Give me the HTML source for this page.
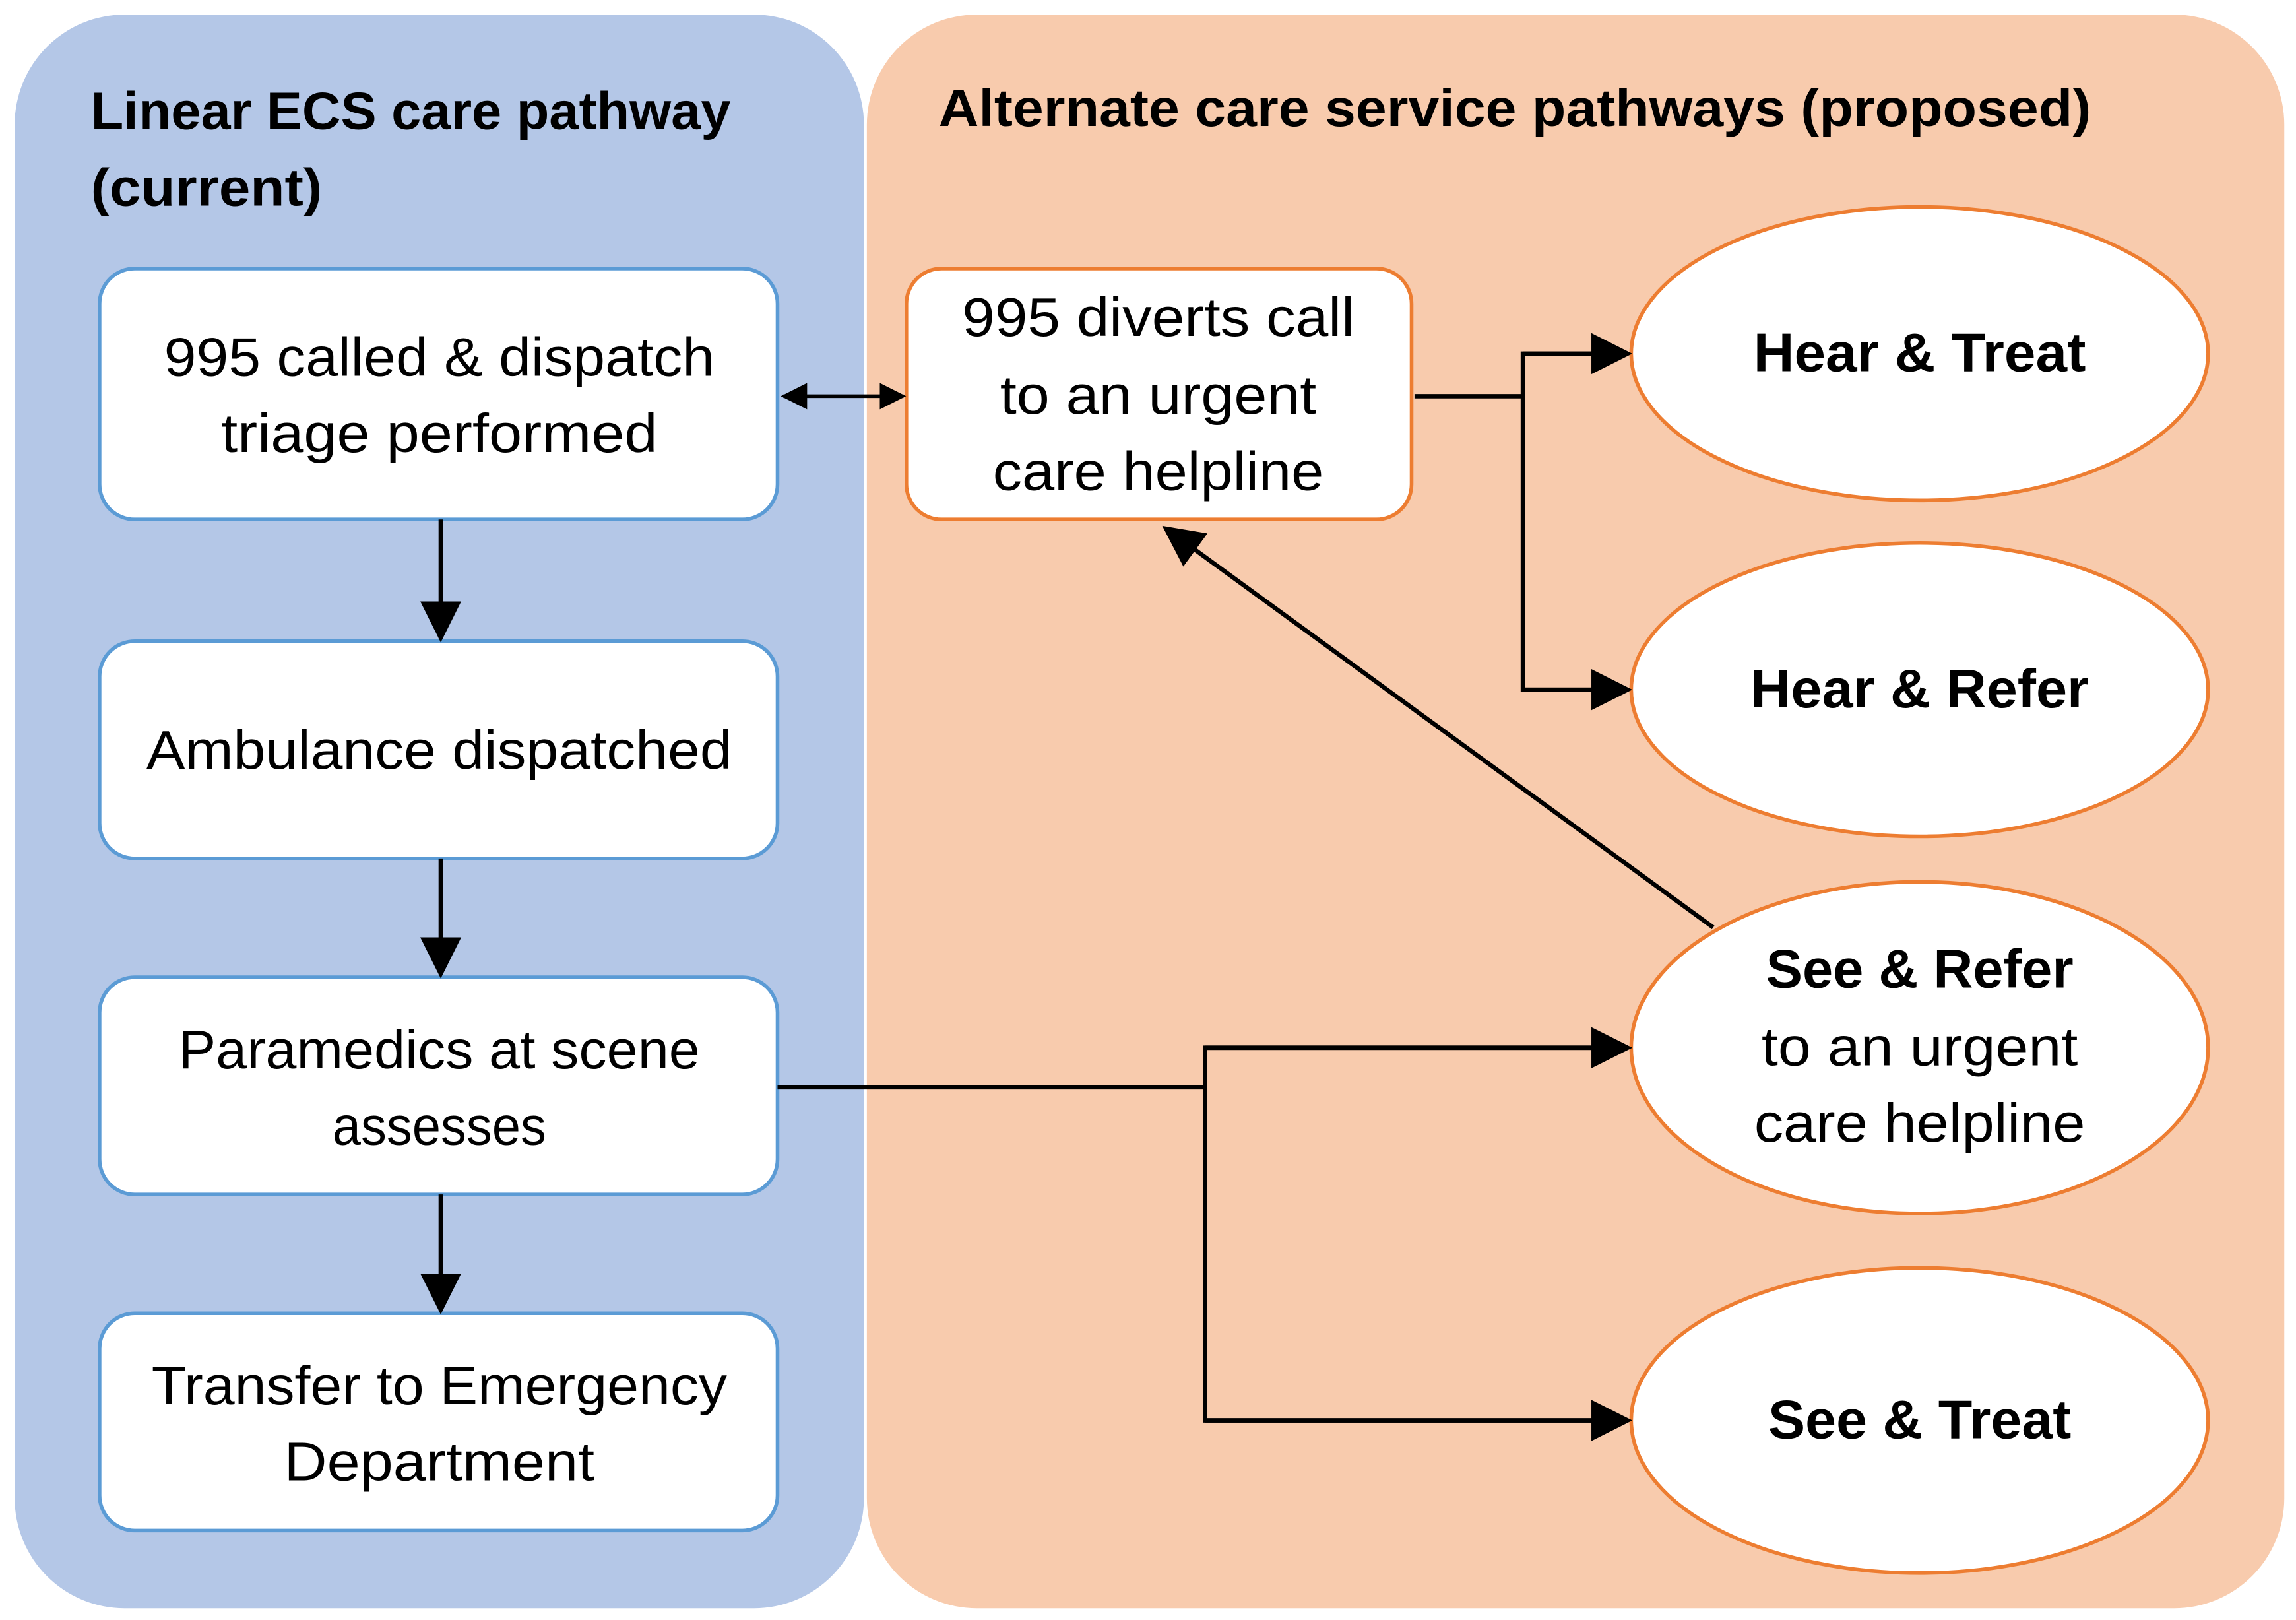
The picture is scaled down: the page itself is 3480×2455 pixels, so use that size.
<!DOCTYPE html>
<html><head><meta charset="utf-8"><style>html,body{margin:0;padding:0;background:#fff}svg{display:block}</style></head>
<body>
<svg width="3480" height="2455" viewBox="0 0 1568 1104" preserveAspectRatio="none" xmlns="http://www.w3.org/2000/svg" font-family="Liberation Sans, sans-serif">
<defs><marker id="a" viewBox="0 0 10 10" refX="9" refY="5" markerWidth="28" markerHeight="30" orient="auto-start-reverse" markerUnits="userSpaceOnUse"><path d="M0,0L10,5L0,10z" fill="#000"/></marker>
<marker id="s" viewBox="0 0 10 10" refX="9" refY="5" markerWidth="18" markerHeight="18" orient="auto-start-reverse" markerUnits="userSpaceOnUse"><path d="M0,0L10,5L0,10z" fill="#000"/></marker></defs>
<rect x="10" y="10" width="580" height="1086" rx="75" fill="#b4c7e7"/>
<rect x="592" y="10" width="968" height="1086" rx="75" fill="#f8cbad"/>
<g font-weight="bold" font-size="36" fill="#000">
<text x="62" y="88" textLength="437" lengthAdjust="spacingAndGlyphs">Linear ECS care pathway</text>
<text x="62" y="140" textLength="158" lengthAdjust="spacingAndGlyphs">(current)</text>
<text x="641" y="86" textLength="787" lengthAdjust="spacingAndGlyphs">Alternate care service pathways (proposed)</text>
</g>
<g fill="#fff" stroke="#5b9bd5" stroke-width="2.5">
<rect x="68" y="183" width="463" height="171" rx="24"/>
<rect x="68" y="437" width="463" height="148" rx="24"/>
<rect x="68" y="666" width="463" height="148" rx="24"/>
<rect x="68" y="895" width="463" height="148" rx="24"/>
</g>
<rect x="619" y="183" width="345" height="171" rx="24" fill="#fff" stroke="#ed7d31" stroke-width="2.5"/>
<g fill="#fff" stroke="#ed7d31" stroke-width="2.5">
<ellipse cx="1311" cy="241" rx="197" ry="100"/>
<ellipse cx="1311" cy="470" rx="197" ry="100"/>
<ellipse cx="1311" cy="714" rx="197" ry="113"/>
<ellipse cx="1311" cy="968" rx="197" ry="104"/>
</g>
<g font-size="37" fill="#000" text-anchor="middle">
<text x="300" y="256" textLength="376" lengthAdjust="spacingAndGlyphs">995 called &amp; dispatch</text>
<text x="300" y="308" textLength="298" lengthAdjust="spacingAndGlyphs">triage performed</text>
<text x="300" y="524" textLength="400" lengthAdjust="spacingAndGlyphs">Ambulance dispatched</text>
<text x="300" y="728" textLength="356" lengthAdjust="spacingAndGlyphs">Paramedics at scene</text>
<text x="300" y="780" textLength="146" lengthAdjust="spacingAndGlyphs">assesses</text>
<text x="300" y="957" textLength="393" lengthAdjust="spacingAndGlyphs">Transfer to Emergency</text>
<text x="300" y="1009" textLength="212" lengthAdjust="spacingAndGlyphs">Department</text>
<text x="791" y="229" textLength="268" lengthAdjust="spacingAndGlyphs">995 diverts call</text>
<text x="791" y="282" textLength="216" lengthAdjust="spacingAndGlyphs">to an urgent</text>
<text x="791" y="334" textLength="226" lengthAdjust="spacingAndGlyphs">care helpline</text>
<text x="1311" y="726" textLength="216" lengthAdjust="spacingAndGlyphs">to an urgent</text>
<text x="1311" y="778" textLength="226" lengthAdjust="spacingAndGlyphs">care helpline</text>
<g font-weight="bold">
<text x="1311" y="253" textLength="227" lengthAdjust="spacingAndGlyphs">Hear &amp; Treat</text>
<text x="1311" y="482" textLength="231" lengthAdjust="spacingAndGlyphs">Hear &amp; Refer</text>
<text x="1311" y="673" textLength="210" lengthAdjust="spacingAndGlyphs">See &amp; Refer</text>
<text x="1311" y="980" textLength="207" lengthAdjust="spacingAndGlyphs">See &amp; Treat</text>
</g></g>
<g stroke="#000" stroke-width="3" fill="none">
<line x1="301" y1="354" x2="301" y2="435" marker-end="url(#a)"/>
<line x1="301" y1="585" x2="301" y2="664" marker-end="url(#a)"/>
<line x1="301" y1="814" x2="301" y2="893" marker-end="url(#a)"/>
<line x1="535" y1="270" x2="617" y2="270" stroke-width="2.5" marker-start="url(#s)" marker-end="url(#s)"/>
<polyline points="966,270 1040,270"/>
<polyline points="1090,241 1040,241 1040,470 1090,470"/>
<line x1="1040" y1="241" x2="1112" y2="241" marker-end="url(#a)"/>
<line x1="1040" y1="470" x2="1112" y2="470" marker-end="url(#a)"/>
<polyline points="531,741 823,741"/>
<polyline points="1090,714 823,714 823,968 1090,968"/>
<line x1="823" y1="714" x2="1112" y2="714" marker-end="url(#a)"/>
<line x1="823" y1="968" x2="1112" y2="968" marker-end="url(#a)"/>
<line x1="1170" y1="632" x2="796" y2="360" marker-end="url(#a)"/>
</g>
</svg>
</body></html>
